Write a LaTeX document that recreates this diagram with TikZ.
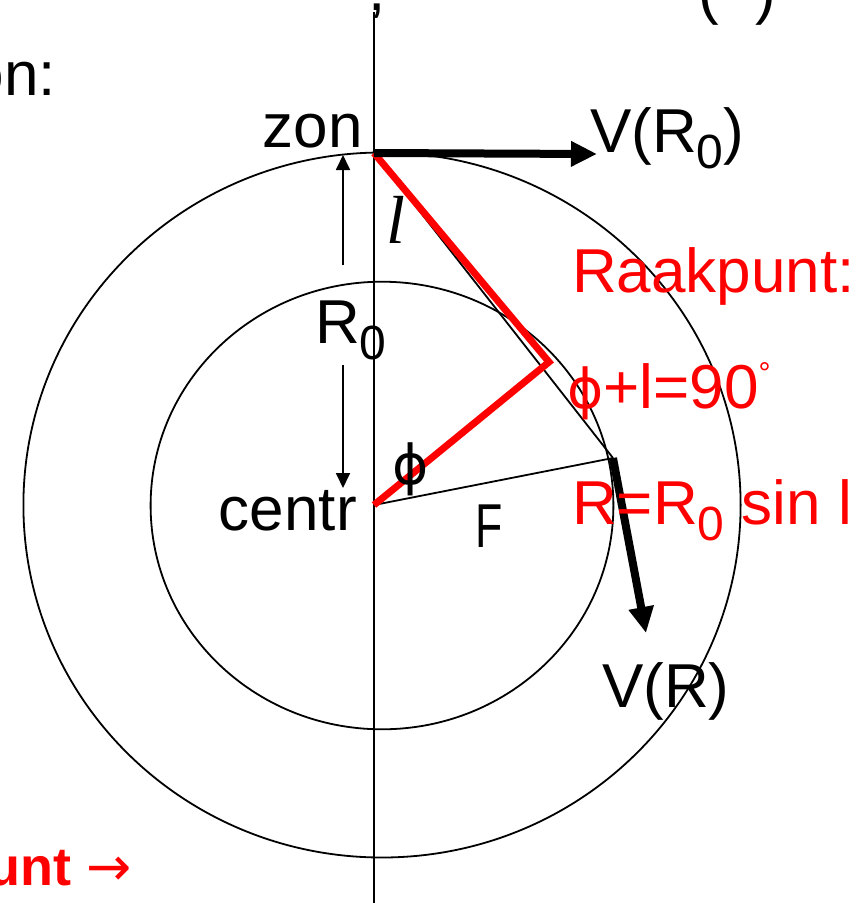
\documentclass[tikz,border=0pt]{standalone}
\usepackage{fontspec}
\setmainfont{Liberation Sans}
\newfontfamily\symfont{DejaVu Sans}
\newfontfamily\serfont{Liberation Serif}
\usetikzlibrary{arrows.meta}
\newcommand\subz[1]{\raisebox{-16pt}{\fontsize{48}{50}\selectfont #1}}
\newcommand\phiglyph{{\symfont\fontsize{55}{60}\selectfont ϕ}}
\begin{document}
\begin{tikzpicture}[x=1pt,y=-1pt,
  lbl/.style={inner sep=0pt, font=\fontsize{62}{70}\selectfont},
  redlbl/.style={lbl, text=red},
  thinl/.style={line width=1.8pt, black},
  redl/.style={line width=7pt, red, line join=miter},
  vec/.style={line width=8pt, -{Triangle[length=26pt, width=24pt]}},
  dimarr/.style={line width=1.8pt, -{Triangle[length=15pt, width=14pt]}}]
\useasboundingbox (0,0) rectangle (864,903);
\coordinate (zon) at (374,153);
\coordinate (centr) at (374,505);
\coordinate (tang) at (613,458);
\coordinate (corner) at (549,362);
\coordinate (vtop) at (374,12);
\coordinate (vbot) at (374,903);
\coordinate (vrzerotip) at (597,154);
\coordinate (vrtip) at (646,633);
\coordinate (upa) at (343,265);
\coordinate (upb) at (343,155);
\coordinate (dna) at (343,365);
\coordinate (dnb) at (343,488);

\draw[thinl] (382,505) ellipse [x radius=358.6, y radius=352.5];
\draw[thinl] (382,505.5) ellipse [x radius=231.4, y radius=223.8];
\draw[thinl] (vtop) -- (vbot);
\draw[thinl] (zon) -- (tang);
\draw[thinl] (centr) -- (tang);
\draw[redl] (zon) -- (corner) -- (centr);
\draw[vec] (zon) -- (vrzerotip);
\draw[vec] (tang) -- (vrtip);
\draw[dimarr] (upa) -- (upb);
\draw[dimarr] (dna) -- (dnb);

\node[lbl, anchor=base east] (zonlbl) at (363,147) {zon};
\node[lbl, anchor=base west] (vrzerolbl) at (590,152) {V(R\subz{0})};
\node[lbl, anchor=base west] (vrlbl) at (602,707) {V(R)};
\node[lbl, anchor=base west] (rzerolbl) at (315,343) {R\subz{0}};
\node[lbl, anchor=base east] (centrlbl) at (357,530) {centr};
\node[lbl, anchor=base west] (flbl) at (475,547) {\scalebox{0.72}[1]{F}};
\node[lbl, anchor=base west] (philbl) at (392,484) {\phiglyph};
\node[inner sep=0pt, anchor=base west, font=\serfont\itshape\fontsize{68}{70}\selectfont] (llbl) at (386,243) {l};
\node[redlbl, anchor=base west] (raak) at (572,292) {Raakpunt:};
\node[redlbl, anchor=base west] (eqa) at (567,408) {\phiglyph+l=90\raisebox{25pt}{\fontsize{30}{30}\selectfont °}};
\node[redlbl, anchor=base west] (eqb) at (572,524) {R=R\subz{0} sin l};
\node[lbl, anchor=base east] (onlbl) at (56,95) {on:};
\node[inner sep=0pt, font=\bfseries\fontsize{54}{60}\selectfont, text=red, anchor=base east] (punt) at (132,885) {punt {\symfont\mdseries →}};
\node[lbl, anchor=base] (comma) at (377,10) {,};
\node[lbl, anchor=base west] (parens) at (698,12) {(\hspace{37pt})};
\end{tikzpicture}
\end{document}
